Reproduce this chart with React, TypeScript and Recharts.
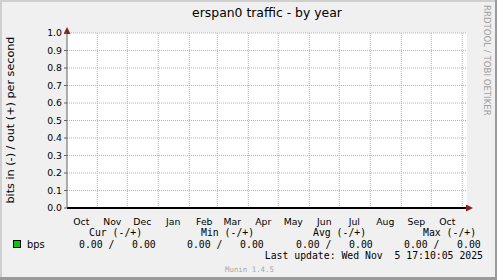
import React from 'react';
import { ComposedChart, Line, XAxis, YAxis, CartesianGrid, ReferenceLine } from 'recharts';

const DAY = 86400000;
const endTime = Date.UTC(2025, 10, 5, 17, 10, 5);
const startTime = endTime - 400 * DAY;

const monthStarts = [
  Date.UTC(2024, 10, 1), Date.UTC(2024, 11, 1), Date.UTC(2025, 0, 1), Date.UTC(2025, 1, 1),
  Date.UTC(2025, 2, 1), Date.UTC(2025, 3, 1), Date.UTC(2025, 4, 1), Date.UTC(2025, 5, 1),
  Date.UTC(2025, 6, 1), Date.UTC(2025, 7, 1), Date.UTC(2025, 8, 1), Date.UTC(2025, 9, 1),
  Date.UTC(2025, 10, 1),
];
const monthLabelTimes = [
  Date.UTC(2024, 9, 16), Date.UTC(2024, 10, 16), Date.UTC(2024, 11, 16), Date.UTC(2025, 0, 16),
  Date.UTC(2025, 1, 16), Date.UTC(2025, 2, 16), Date.UTC(2025, 3, 16), Date.UTC(2025, 4, 16),
  Date.UTC(2025, 5, 16), Date.UTC(2025, 6, 16), Date.UTC(2025, 7, 16), Date.UTC(2025, 8, 16),
  Date.UTC(2025, 9, 17),
];
const monthLabels = ['Oct', 'Nov', 'Dec', 'Jan', 'Feb', 'Mar', 'Apr', 'May', 'Jun', 'Jul', 'Aug', 'Sep', 'Oct'];

const yTicks = [0, 0.1, 0.2, 0.3, 0.4, 0.5, 0.6, 0.7, 0.8, 0.9, 1.0];

const sampleTimes = [startTime, ...monthStarts, endTime];
const bpsIn = [0, 0, 0, 0, 0, 0, 0, 0, 0, 0, 0, 0, 0, 0, 0];
const bpsOut = [0, 0, 0, 0, 0, 0, 0, 0, 0, 0, 0, 0, 0, 0, 0];

const legendHeaders = ['Cur (-/+)', 'Min (-/+)', 'Avg (-/+)', 'Max (-/+)'];
const legendIn = [0, 0, 0, 0];
const legendOut = [0, 0, 0, 0];

const data = sampleTimes.map((t, i) => ({ t, in: bpsIn[i], out: bpsOut[i] }));

const GRID = '#ec9a9a';
const MONO = '"DejaVu Sans Mono", monospace';
const SANS = '"DejaVu Sans", sans-serif';

const headerX = [89, 201, 313, 423];
const valueX = [79, 187, 296, 404];

export default function App() {
  const labelFor = (v: number) => {
    const i = monthLabelTimes.indexOf(v);
    return i >= 0 ? monthLabels[i] : '';
  };
  return (
    <div style={{ position: 'relative', width: 497, height: 280, background: '#f0f0f0', overflow: 'hidden' }}>
      <style>{'body{margin:0}'}</style>
      <svg width={0} height={0} style={{ position: 'absolute' }}>
        <defs>
          <marker id="arrowRed" markerUnits="userSpaceOnUse" markerWidth={8} markerHeight={8} refX={1} refY={3.5} orient="auto-start-reverse" viewBox="0 0 8 8">
            <path d="M0,0 L7,3.5 L0,7 z" fill="#8e1c1c" />
          </marker>
        </defs>
      </svg>
      <div style={{ position: 'absolute', left: 0, top: 0, width: 497, height: 2, background: '#cfcfcf' }} />
      <div style={{ position: 'absolute', left: 0, top: 0, width: 2, height: 280, background: '#cfcfcf' }} />
      <div style={{ position: 'absolute', right: 0, top: 0, width: 2, height: 280, background: '#9a9a9a' }} />
      <div style={{ position: 'absolute', left: 0, bottom: 0, width: 497, height: 3, background: '#9a9a9a' }} />
      <ComposedChart
        width={497}
        height={280}
        data={data}
        margin={{ top: 33, right: 30, bottom: 52, left: 37 }}
        style={{ position: 'absolute', left: 0, top: 0 }}
      >
        <CartesianGrid vertical={false} stroke={GRID} strokeDasharray="1 1" fill="#ffffff" />
        {monthStarts.map((m) => (
          <ReferenceLine key={m} x={m} stroke={GRID} strokeDasharray="1 1" />
        ))}
        <XAxis
          dataKey="t"
          type="number"
          domain={[startTime, endTime]}
          ticks={monthLabelTimes}
          interval={0}
          tickFormatter={labelFor}
          tickLine={false}
          height={20}
          tickMargin={4}
          axisLine={{ stroke: '#000', strokeWidth: 2, markerEnd: 'url(#arrowRed)' }}
          tick={{ fontFamily: SANS, fontSize: 9.3, fill: '#000' }}
          allowDataOverflow
        />
        <YAxis
          type="number"
          domain={[0, 1]}
          ticks={yTicks}
          interval={0}
          width={30}
          tickSize={3}
          tickMargin={2}
          tickFormatter={(v: number) => v.toFixed(1)}
          axisLine={{ stroke: '#606060', strokeWidth: 1, markerStart: 'url(#arrowRed)' }}
          tickLine={{ stroke: '#606060' }}
          tick={{ fontFamily: SANS, fontSize: 9.3, fill: '#000' }}
        />
        <Line dataKey="out" stroke="#00cc00" strokeWidth={1} dot={false} isAnimationActive={false} />
        <ReferenceLine y={0} stroke="#000" strokeWidth={2} />
      </ComposedChart>
      <svg width={497} height={280} style={{ position: 'absolute', left: 0, top: 0, pointerEvents: 'none' }}>
        <text x={267} y={17} textAnchor="middle" fontFamily={SANS} fontSize={12.4} fill="#000">
          erspan0 traffic - by year
        </text>
        <text x={14} y={120} transform="rotate(-90 14 120)" textAnchor="middle" fontFamily={SANS} fontSize={11.2} fill="#000">
          bits in (-) / out (+) per second
        </text>
        <text x={484} y={5} transform="rotate(90 484 5)" fontFamily={SANS} fontSize={8.6} fill="#a0a0a0">
          RRDTOOL / TOBI OETIKER
        </text>
        {legendHeaders.map((h, i) => (
          <text key={h} x={headerX[i]} y={236} fontFamily={MONO} fontSize={9.8} fill="#000" style={{ whiteSpace: 'pre' }}>
            {h}
          </text>
        ))}
        <rect x={13.5} y={240.5} width={7} height={7} fill="#00cc00" stroke="#000" strokeWidth={1} />
        <text x={27} y={247.5} fontFamily={SANS} fontSize={9.8} fill="#000">bps</text>
        {legendIn.map((v, i) => (
          <text key={i} x={valueX[i]} y={247.5} fontFamily={MONO} fontSize={9.8} fill="#000" style={{ whiteSpace: 'pre' }}>
            {`${v.toFixed(2)} /   ${legendOut[i].toFixed(2)}`}
          </text>
        ))}
        <text x={483} y={259} textAnchor="end" fontFamily={MONO} fontSize={9.8} fill="#000" style={{ whiteSpace: 'pre' }}>
          {'Last update: Wed Nov  5 17:10:05 2025'}
        </text>
        <text x={225} y={272} fontFamily={MONO} fontSize={7.4} fill="#a8a8a8">Munin 1.4.5</text>
      </svg>
    </div>
  );
}
